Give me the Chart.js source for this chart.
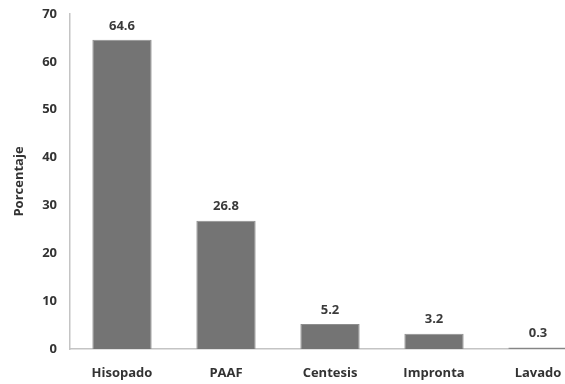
<!DOCTYPE html>
<html>
<head>
<meta charset="utf-8">
<script src="https://cdn.jsdelivr.net/npm/chart.js@4/dist/chart.umd.min.js"></script>
<style>
  html, body { margin: 0; padding: 0; background: #fff; overflow: hidden; }
  #wrap { width: 590px; height: 384px; }
</style>
</head>
<body>
<div id="wrap"><canvas id="c" width="590" height="384"></canvas></div>
<script>
const categories = ['Hisopado', 'PAAF', 'Centesis', 'Impronta', 'Lavado'];
const porcentaje = [64.6, 26.8, 5.2, 3.2, 0.3];
const yTicks = [0, 10, 20, 30, 40, 50, 60, 70];

const FONT = '"Open Sans", Lato, sans-serif';

// Writes each bar's value just above it
const valueLabels = {
  id: 'valueLabels',
  afterDatasetsDraw(chart) {
    const ctx = chart.ctx;
    const meta = chart.getDatasetMeta(0);
    ctx.save();
    ctx.font = 'bold 13px ' + FONT;
    ctx.fillStyle = '#3a3a3a';
    ctx.textAlign = 'center';
    ctx.textBaseline = 'middle';
    meta.data.forEach((bar, i) => {
      ctx.fillText(porcentaje[i].toFixed(1), bar.x, bar.y - 14);
    });
    ctx.restore();
  }
};

new Chart(document.getElementById('c'), {
  type: 'bar',
  data: {
    labels: categories,
    datasets: [{
      data: porcentaje,
      backgroundColor: '#747474',
      borderColor: '#8e8e8e',
      borderWidth: 1,
      barPercentage: 0.57,
      categoryPercentage: 1
    }]
  },
  options: {
    responsive: false,
    animation: false,
    layout: { padding: { left: 0, top: 14, right: 0, bottom: 0 } },
    plugins: { legend: { display: false }, tooltip: { enabled: false } },
    scales: {
      x: {
        afterFit(scale) { scale.height = 35; },
        grid: { display: false },
        border: { display: true, color: '#c4c4c4', width: 1.5 },
        ticks: { color: '#333', font: { family: FONT, size: 13, weight: 'bold' }, padding: 8, maxRotation: 0 }
      },
      y: {
        min: 0, max: 70,
        afterBuildTicks(scale) { scale.ticks = yTicks.map(v => ({ value: v })); },
        afterFit(scale) {
          scale.width = 70;
          scale.paddingTop = 0;
          scale.paddingBottom = 0;
        },
        grid: { display: false },
        border: { display: true, color: '#c4c4c4', width: 1.5 },
        ticks: { color: '#333', font: { family: FONT, size: 13, weight: 'bold' }, padding: 5 },
        title: { display: true, text: 'Porcentaje', color: '#333', font: { family: FONT, size: 13, weight: 'bold' }, padding: { top: 11, bottom: 0 } }
      }
    }
  },
  plugins: [valueLabels]
});
</script>
</body>
</html>
